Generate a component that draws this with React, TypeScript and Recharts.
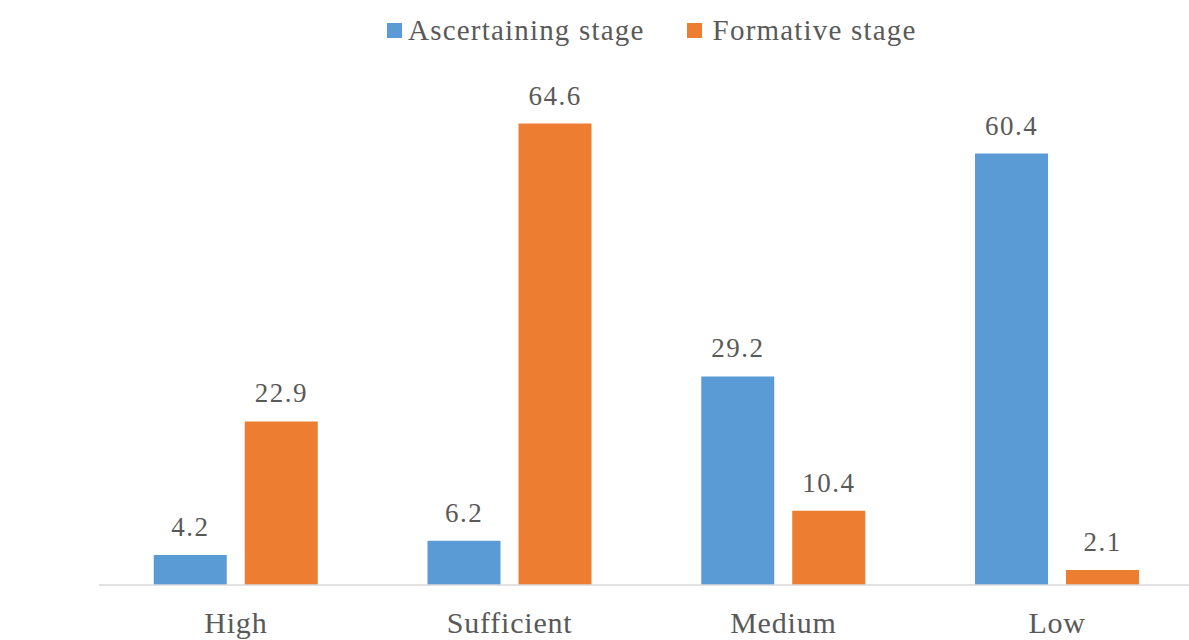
import React from "react";
import { BarChart, Bar, XAxis, YAxis, Legend, LabelList } from "recharts";

const levels = ["High", "Sufficient", "Medium", "Low"];
const ascertaining = [4.2, 6.2, 29.2, 60.4];
const formative = [22.9, 64.6, 10.4, 2.1];
const seriesNames = ["Ascertaining stage", "Formative stage"];

const data = levels.map((level, i) => ({
  level,
  ascertaining: ascertaining[i],
  formative: formative[i],
}));

const BLUE = "#5B9BD5";
const ORANGE = "#ED7D31";
const TEXT = "#595959";
const FONT = "'Liberation Serif', 'Times New Roman', serif";

const LegendBox = () => (
  <div
    style={{
      display: "flex",
      alignItems: "center",
      height: 40,
      paddingLeft: 387,
      fontFamily: FONT,
      fontSize: 29,
      letterSpacing: 1.2,
      color: TEXT,
    }}
  >
    {[BLUE, ORANGE].map((c, i) => (
      <span key={i} style={{ display: "flex", alignItems: "center", marginRight: i === 0 ? 42 : 0 }}>
        <span style={{ width: 15, height: 15, background: c, display: "inline-block", marginRight: i === 0 ? 6 : 11 }} />
        {seriesNames[i]}
      </span>
    ))}
  </div>
);

const CategoryTick = ({ x, y, payload }: any) => (
  <text
    x={x}
    y={y}
    dy={40}
    textAnchor="middle"
    fill={TEXT}
    style={{ fontFamily: FONT, fontSize: 30, letterSpacing: 0.8 }}
  >
    {payload.value}
  </text>
);

const labelStyle = { fontFamily: FONT, fontSize: 27, letterSpacing: 1.5 };

export default function App() {
  return (
    <div style={{ position: "absolute", left: 0, top: 0, width: 1189, height: 640, overflow: "hidden", background: "#fff" }}>
      <BarChart
        width={1196}
        height={640}
        data={data}
        margin={{ top: 45, right: 2, bottom: 5, left: 99 }}
        barCategoryGap="20%"
        barGap={18}
      >
        <Legend verticalAlign="top" align="left" content={<LegendBox />} wrapperStyle={{ left: 0, top: 10 }} />
        <XAxis
          dataKey="level"
          height={50}
          axisLine={{ stroke: "#D9D9D9", strokeWidth: 1.5 }}
          tickLine={false}
          tick={<CategoryTick />}
        />
        <YAxis hide domain={[0, 70]} />
        <Bar dataKey="ascertaining" name={seriesNames[0]} fill={BLUE} isAnimationActive={false}>
          <LabelList dataKey="ascertaining" position="top" offset={19} fill={TEXT} style={labelStyle} />
        </Bar>
        <Bar dataKey="formative" name={seriesNames[1]} fill={ORANGE} isAnimationActive={false}>
          <LabelList dataKey="formative" position="top" offset={19} fill={TEXT} style={labelStyle} />
        </Bar>
      </BarChart>
    </div>
  );
}
